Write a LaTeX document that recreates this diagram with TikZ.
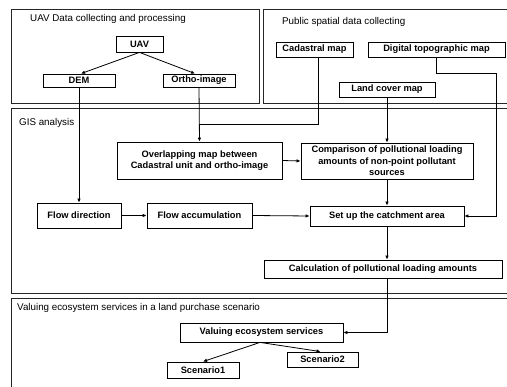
\documentclass[tikz,border=0pt]{standalone}
\usepackage{fontspec}
\setmainfont{Liberation Sans}
\usetikzlibrary{arrows.meta}
\tikzset{
  sect/.style={draw=black!85, line width=0.8pt},
  sectitle/.style={anchor=west, inner sep=0pt, font=\fontsize{9.8}{11}\selectfont},
  box/.style={draw, line width=0.8pt, fill=white, inner sep=0pt, align=center,
    font=\bfseries\fontsize{9.3}{11.5}\selectfont},
  arr/.style={-{Latex[length=4pt,width=3.6pt]}, line width=0.8pt},
  ln/.style={line width=0.8pt}
}
\begin{document}
\begin{tikzpicture}[x=1pt,y=-1pt]
\useasboundingbox (0,0) rectangle (507,387);
\clip (0,0) rectangle (507,387);
% section frames
\draw[sect] (11,9) rectangle (259,103);
\draw[sect] (263,9) rectangle (520,103);
\draw[sect] (11,108) rectangle (520,293);
\draw[sect] (11,298) rectangle (520,400);
\node[sectitle] (t1) at (30,19) {UAV Data collecting and processing};
\node[sectitle] (t2) at (282,22) {Public spatial data collecting};
\node[sectitle] (t3) at (19,123) {GIS analysis};
\node[sectitle] (t4) at (17,308) {Valuing ecosystem services in a land purchase scenario};
% nodes
\node[box, minimum width=47pt, minimum height=16pt] (uav) at (139.5,44) {UAV};
\node[box, minimum width=72pt, minimum height=13pt] (dem) at (79,80.5) {DEM};
\node[box, minimum width=72pt, minimum height=13pt] (ortho) at (199,80.5) {Ortho-image};
\node[box, minimum width=77pt, minimum height=15pt] (cad) at (314.5,49.5) {Cadastral map};
\node[box, minimum width=137pt, minimum height=15pt] (topo) at (436.5,49.5) {Digital topographic map};
\node[box, minimum width=96pt, minimum height=15pt] (land) at (387,89.5) {Land cover map};
\node[box, minimum width=165pt, minimum height=37pt] (over) at (199.5,160.5) {Overlapping map between\\Cadastral unit and ortho-image};
\node[box, minimum width=172pt, minimum height=36pt] (comp) at (387,161) {Comparison of pollutional loading\\amounts of non-point pollutant\\sources};
\node[box, minimum width=84pt, minimum height=25pt] (fdir) at (79,215.5) {Flow direction};
\node[box, minimum width=105pt, minimum height=25pt] (facc) at (199.5,215.5) {Flow accumulation};
\node[box, minimum width=154pt, minimum height=20pt] (setup) at (387,216) {Set up the catchment area};
\node[box, minimum width=238pt, minimum height=18pt] (calc) at (383,269) {Calculation of pollutional loading amounts};
\node[box, minimum width=163pt, minimum height=19pt] (val) at (261.5,332.5) {Valuing ecosystem services};
\node[box, minimum width=72pt, minimum height=16pt] (sc1) at (203,370) {Scenario1};
\node[box, minimum width=71pt, minimum height=15pt] (sc2) at (322.5,359.5) {Scenario2};
% junction coordinates
\coordinate (j1) at (199,124);
\coordinate (j2) at (496,73);
% connectors
\draw[arr] (uav.south) -- ([xshift=2pt]dem.north);
\draw[arr] (uav.south) -- ([xshift=-4pt]ortho.north);
\draw[arr] (ortho.south) -- (over.north);
\draw[ln] ([xshift=3.5pt]cad.south) |- (j1);
\draw[arr] (topo.south) |- (j2) |- (setup.east);
\draw[arr] (land.south) -- (comp.north);
\draw[arr] (dem.south) -- (fdir.north);
\draw[arr] (over.east) -- (comp.west);
\draw[arr] (fdir.east) -- (facc.west);
\draw[arr] (facc.east) -- (setup.west);
\draw[arr] (comp.south) -- (setup.north);
\draw[arr] (setup.south) -- (setup.south |- calc.north);
\draw[arr] (calc.south -| setup.south) |- (val.east);
\draw[arr] ([xshift=-1.5pt]val.south) -- (sc1.north);
\draw[arr] ([xshift=-1.5pt]val.south) -- ([xshift=-2pt]sc2.north);
\end{tikzpicture}
\end{document}
